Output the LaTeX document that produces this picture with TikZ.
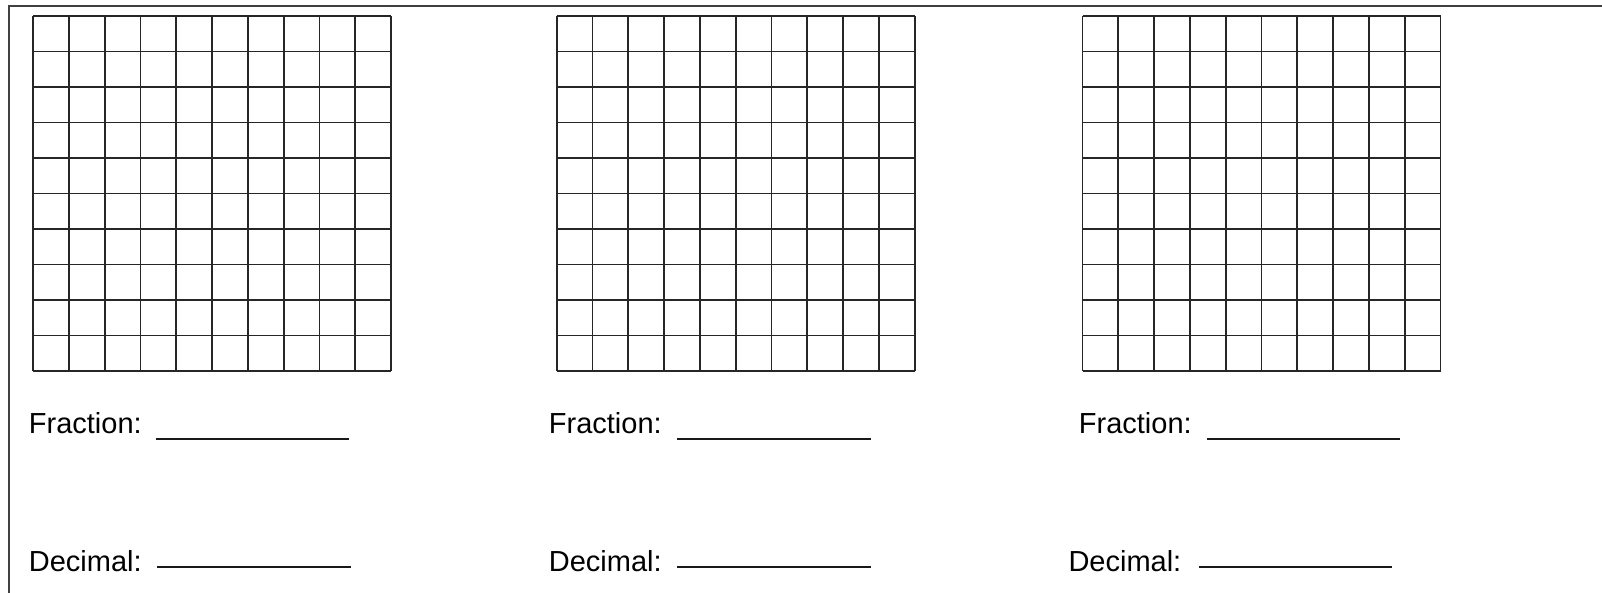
\documentclass[tikz,border=0pt]{standalone}
\usepackage{fontspec}
\setmainfont{Liberation Sans}
\begin{document}
\begin{tikzpicture}[x=1pt,y=-1pt,
  gridline/.style={line width=1.8pt, color=black!85},
  frameline/.style={line width=2pt, color=black!75},
  blank/.style={line width=2pt, color=black!90},
  lbl/.style={anchor=base west, inner sep=0pt, font=\fontsize{29}{32}\selectfont}]
\useasboundingbox (0,0) rectangle (1602,592);
\fill[white] (0,0) rectangle (1602,592);
% frame (top and left)
\draw[frameline] (8.5,600) -- (8.5,6) -- (1610,6);
% grids
\foreach \gx in {33,556.7,1082.5}{
  \foreach \k in {0,...,10}{
    \draw[gridline] ({\gx+35.8*\k},16) -- ({\gx+35.8*\k},371);
    \draw[gridline] (\gx,{16+35.5*\k}) -- ({\gx+358},{16+35.5*\k});
  }
}
% labels
\node[lbl] (f1) at (28.7,433) {Fraction:};
\node[lbl] (d1) at (28.7,571.5) {Decimal:};
\node[lbl] (f2) at (548.7,433) {Fraction:};
\node[lbl] (d2) at (548.7,571.5) {Decimal:};
\node[lbl] (f3) at (1078.7,433) {Fraction:};
\node[lbl] (d3) at (1068.3,571.5) {Decimal:};
% blanks
\draw[blank] (155.7,438.5) -- (349.3,438.5);
\draw[blank] (157,566.7) -- (351,566.7);
\draw[blank] (677.3,438.5) -- (870.7,438.5);
\draw[blank] (677.3,566.7) -- (871,566.7);
\draw[blank] (1207.3,438.5) -- (1400,438.5);
\draw[blank] (1199.3,566.7) -- (1392,566.7);
\end{tikzpicture}
\end{document}
